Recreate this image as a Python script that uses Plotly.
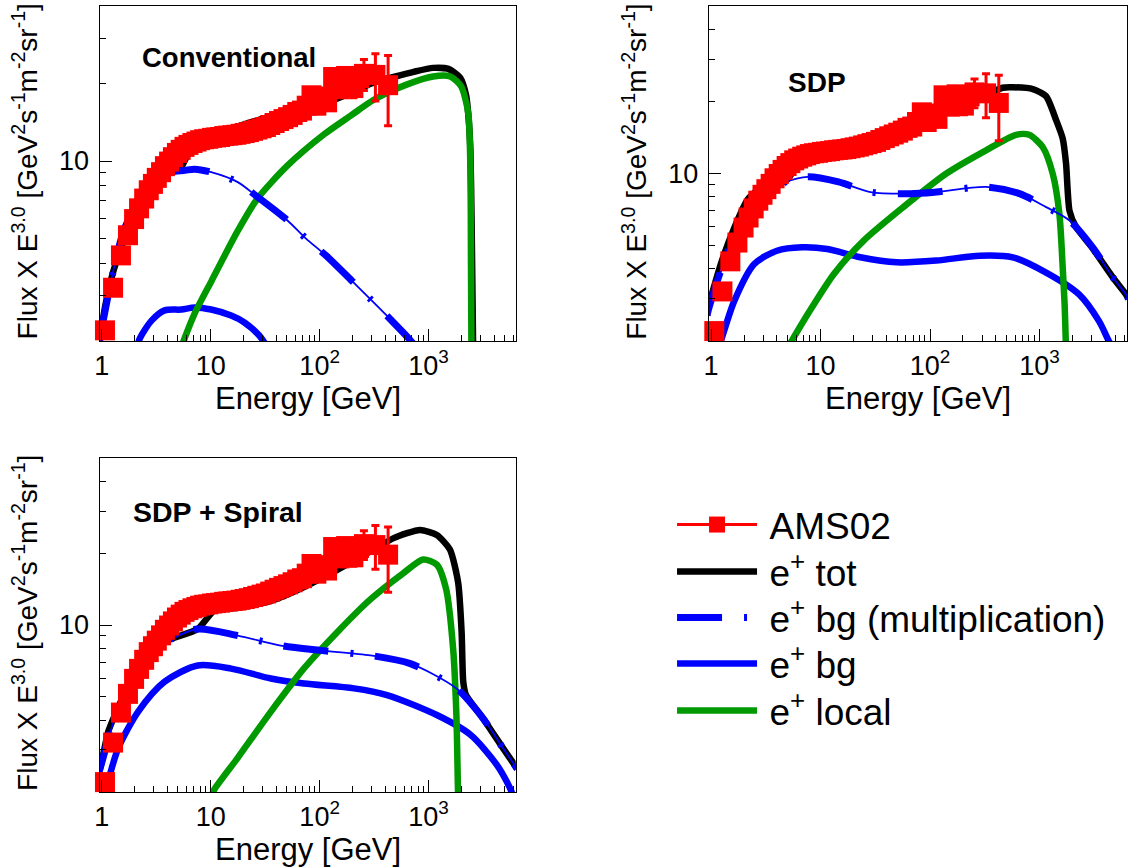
import math
import plotly.graph_objects as go

W, H = 1135, 867
FONT = "Liberation Sans, Arial, Helvetica, sans-serif"

# ---------------- AMS02 positron data (E^3 x flux) ----------------
ams_E = [1.07, 1.27, 1.50, 1.74, 1.98, 2.2, 2.45, 2.7, 2.95, 3.2, 3.5, 3.8, 4.15, 4.5, 4.9,
         5.3, 5.75, 6.25, 6.8, 7.4, 8.0, 8.7, 9.5, 10.3, 11.2, 12.2, 13.3, 14.5, 15.8, 17.2,
         18.8, 20.5, 22.4, 24.5, 26.8, 29.3, 32.1, 35.2, 38.6, 42.4, 46.6, 51.3, 56.5, 62.3,
         68.8, 76.1, 84.2, 93.3, 104, 117, 133, 152, 175, 204, 230, 255, 325, 425]
ams_F = [2.20, 3.22, 4.30, 5.15, 5.95, 6.55, 7.15, 7.70, 8.15, 8.60, 9.05, 9.55, 9.95, 10.35, 10.75,
         11.05, 11.35, 11.55, 11.75, 11.90, 12.05, 12.15, 12.20, 12.30, 12.35, 12.40, 12.50, 12.55, 12.60, 12.65,
         12.75, 12.85, 12.95, 13.10, 13.25, 13.40, 13.55, 13.80, 14.05, 14.30, 14.55, 14.80, 15.10, 15.50,
         15.70, 16.40, 18.00, 16.40, 17.80, 16.90, 21.20, 19.00, 21.40, 19.20, 21.00, 21.8, 21.6, 19.7]
ams_err = [0.05, 0.07, 0.08, 0.09, 0.1, 0.1, 0.1, 0.1, 0.1, 0.1, 0.1, 0.1, 0.1, 0.1, 0.1,
           0.1, 0.1, 0.1, 0.1, 0.1, 0.1, 0.1, 0.1, 0.1, 0.1, 0.1, 0.1, 0.1, 0.1, 0.1,
           0.12, 0.12, 0.13, 0.14, 0.15, 0.16, 0.18, 0.2, 0.22, 0.25, 0.3, 0.35, 0.4, 0.45,
           0.5, 0.55, 0.6, 0.7, 0.8, 0.9, 1.0, 1.1, 1.3, 1.6, 2.0, 3.0, 4.5, 6.0]

# ---------------- Panel 1: Conventional ----------------
conv_tot_E = [0.93, 1.0, 1.07, 1.27, 1.56, 2.0, 2.76, 3.8, 5.2, 7.1, 10.1, 17.6, 26.8, 50, 110, 200,
              314, 478, 730, 1100, 1520, 1960, 2210, 2350, 2420, 2480, 2530, 2580]
conv_tot_F = [1.8, 2.25, 2.7, 3.7, 4.8, 6.25, 7.8, 8.9, 9.3, 11.85, 12.45, 13.6, 14.4, 15.5, 16.75, 18.5,
              20.2, 21.2, 22.2, 23.0, 22.8, 21.0, 18.0, 14.0, 11.0, 6.0, 3.0, 1.5]
conv_bgm_E = [0.95, 1.05, 1.25, 1.6, 2.2, 3.0, 4.2, 5.8, 7.1, 10.1, 17.7, 26.9, 50.4, 74.5, 116, 197,
              292, 445, 655, 760]
conv_bgm_F = [2.0, 2.5, 3.6, 5.4, 7.0, 8.2, 9.05, 9.2, 9.3, 9.05, 8.28, 7.25, 5.89, 5.01, 4.27, 3.43,
              2.91, 2.43, 2.05, 1.9]
conv_bg_E = [2.15, 2.24, 2.86, 3.78, 5.38, 7.11, 10.1, 15.4, 20.4, 27.9, 32.2]
conv_bg_F = [1.95, 2.05, 2.40, 2.63, 2.65, 2.70, 2.65, 2.51, 2.36, 2.10, 1.93]
conv_loc_E = [5.4, 5.76, 7.1, 10.2, 17.6, 26.8, 50.3, 110, 197, 314, 628, 1100, 1580, 1990, 2310,
              2420, 2450, 2480]
conv_loc_F = [1.9, 2.05, 2.55, 3.43, 5.33, 7.14, 9.57, 12.7, 15.1, 17.3, 19.8, 21.3, 21.3, 19.5, 15.4,
              9.3, 4.0, 1.5]

# ---------------- Panel 2: SDP ----------------
sdp_tot_E = [0.92, 0.94, 1.23, 1.62, 2.16, 3.0, 4.8, 7.6, 14.6, 28.5, 65.8, 114, 325, 459, 570, 870,
             1150, 1420, 1630, 1750, 1880, 2150, 3030, 4690, 6170, 6500]
sdp_tot_F = [2.6, 2.75, 4.2, 5.9, 7.8, 8.9, 9.3, 12.3, 13.1, 13.9, 15.8, 17.8, 21.3, 22.8, 22.9, 22.5,
             21.0, 16.7, 14.0, 11.0, 7.0, 6.0, 4.9, 3.68, 3.13, 3.0]
sdp_bgm_E = [0.92, 0.94, 1.43, 2.2, 3.2, 4.8, 7.6, 14.6, 28.5, 65.8, 114, 325, 657, 1150, 1880, 3060,
             4690, 6170, 6500]
sdp_bgm_F = [2.55, 2.67, 4.77, 7.0, 8.4, 9.22, 9.68, 9.22, 8.37, 8.24, 8.37, 8.79, 8.24, 7.24, 6.37, 4.92,
             3.68, 3.13, 3.0]
sdp_bg_E = [1.18, 1.23, 1.63, 2.48, 4.0, 6.8, 11.5, 23.1, 49.5, 114, 285, 570, 1150, 2300, 3500, 4300, 4600]
sdp_bg_F = [1.9, 2.0, 2.94, 4.19, 4.76, 4.92, 4.84, 4.47, 4.26, 4.33, 4.54, 4.47, 3.86, 3.13, 2.42, 2.0, 1.9]
sdp_loc_E = [5.1, 5.34, 7.6, 13.2, 24.8, 57, 141, 325, 610, 805, 1070, 1320, 1520, 1630, 1700, 1740, 1760]
sdp_loc_F = [1.9, 1.97, 2.58, 3.8, 5.25, 7.24, 10.0, 12.5, 14.5, 14.5, 12.9, 10.0, 6.8, 4.06, 2.8, 1.97, 1.5]

# ---------------- Panel 3: SDP + Spiral ----------------
sp_tot_E = [0.92, 0.97, 1.15, 1.32, 1.8, 2.5, 3.5, 4.36, 7.6, 10.8, 17.7, 35.7, 71.8, 145, 292, 478,
            836, 1190, 1570, 1870, 2010, 2080, 2200, 3160, 4800, 6100, 6500]
sp_tot_F = [2.35, 2.53, 3.59, 4.2, 5.7, 7.2, 8.3, 8.75, 9.62, 11.5, 11.8, 12.6, 14.4, 17.0, 20.3, 23.1,
            25.0, 23.8, 20.7, 15.0, 9.33, 5.79, 5.1, 4.07, 3.06, 2.61, 2.5]
sp_bgm_E = [0.92, 0.97, 1.3, 2.0, 3.0, 4.36, 7.6, 17.7, 44, 102, 292, 680, 1800, 3160, 4800, 6100, 6500]
sp_bgm_F = [2.35, 2.53, 4.0, 6.3, 7.9, 8.75, 9.62, 9.03, 8.2, 7.83, 7.46, 6.89, 5.43, 4.07, 3.06, 2.61, 2.5]
sp_bg_E = [1.06, 1.11, 1.19, 1.42, 2.16, 3.78, 7.6, 15.4, 35.7, 71.8, 207, 415, 1190, 2410, 4200, 5550, 5900]
sp_bg_F = [1.95, 2.1, 2.37, 3.06, 4.34, 5.79, 6.77, 6.57, 5.97, 5.69, 5.43, 5.09, 4.2, 3.48, 2.61, 2.09, 1.95]
sp_loc_E = [10.3, 10.8, 17.7, 35.7, 71.8, 145, 292, 588, 890, 1190, 1450, 1680, 1800, 1860, 1890]
sp_loc_F = [1.95, 2.05, 2.78, 4.34, 6.58, 9.33, 12.8, 16.5, 18.8, 17.9, 14.1, 7.95, 4.2, 2.05, 1.5]

# ---------------- labels / ticks ----------------
panel_names = ["Conventional", "SDP", "SDP + Spiral"]
x_tickvals = [1, 10, 100, 1000]
x_ticktext = ["1", "10", "10<sup>2</sup>", "10<sup>3</sup>"]
x_minor = [2, 3, 4, 5, 6, 7, 8, 9, 20, 30, 40, 50, 60, 70, 80, 90,
           200, 300, 400, 500, 600, 700, 800, 900, 2000, 3000, 4000, 5000, 6000]
y_tickvals = [10]
y_ticktext = ["10"]
y_minor = [3, 4, 5, 6, 7, 8, 9, 20, 30, 40]
y_ranges = [[2, 40], [2, 50], [2, 50]]
xtitle = "Energy [GeV]"
ytitle = "Flux X E<sup>3.0</sup> [GeV<sup>2</sup>s<sup>-1</sup>m<sup>-2</sup>sr<sup>-1</sup>]"
legend_names = ["AMS02", "e<sup>+</sup> tot", "e<sup>+</sup> bg (multiplication)",
                "e<sup>+</sup> bg", "e<sup>+</sup> local"]

RED, BLUE, GREEN, BLACK = "#ff0000", "#0000ff", "#009900", "#000000"
LW = 6.5

# pixel layout of the three frames (left, right, top, bottom)
frames = [(95, 513, 6, 341), (707, 1127, 6, 341), (95, 513, 458, 792)]

curves = [
    (conv_tot_E, conv_tot_F, conv_bgm_E, conv_bgm_F, conv_bg_E, conv_bg_F, conv_loc_E, conv_loc_F),
    (sdp_tot_E, sdp_tot_F, sdp_bgm_E, sdp_bgm_F, sdp_bg_E, sdp_bg_F, sdp_loc_E, sdp_loc_F),
    (sp_tot_E, sp_tot_F, sp_bgm_E, sp_bgm_F, sp_bg_E, sp_bg_F, sp_loc_E, sp_loc_F),
]

fig = go.Figure()
DASH = "45px,22px,3px,22px"
SP = "\u2009"  # small gap between legend symbol and text

for i, (tE, tF, mE, mF, bE, bF, lE, lF) in enumerate(curves):
    xa = "x" if i == 0 else f"x{i+1}"
    ya = "y" if i == 0 else f"y{i+1}"
    first = (i == 0)
    fig.add_trace(go.Scatter(x=tE, y=tF, xaxis=xa, yaxis=ya, mode="lines",
                             line=dict(color=BLACK, width=LW, shape="spline", smoothing=0.6),
                             name=SP + legend_names[1], showlegend=first, legend="legend2"))
    fig.add_trace(go.Scatter(x=bE, y=bF, xaxis=xa, yaxis=ya, mode="lines",
                             line=dict(color=BLUE, width=LW, shape="spline", smoothing=0.8),
                             name=SP + legend_names[3], showlegend=first, legend="legend4"))
    fig.add_trace(go.Scatter(x=lE, y=lF, xaxis=xa, yaxis=ya, mode="lines",
                             line=dict(color=GREEN, width=LW, shape="spline", smoothing=0.7),
                             name=SP + legend_names[4], showlegend=first, legend="legend5"))
    fig.add_trace(go.Scatter(x=mE, y=mF, xaxis=xa, yaxis=ya, mode="lines",
                             line=dict(color=BLUE, width=1.8, shape="spline", smoothing=0.8),
                             showlegend=False, hoverinfo="skip"))
    fig.add_trace(go.Scatter(x=mE, y=mF, xaxis=xa, yaxis=ya, mode="lines",
                             line=dict(color=BLUE, width=LW + 0.5, shape="spline", smoothing=0.8, dash=DASH),
                             name=SP + legend_names[2], showlegend=first, legend="legend3"))
    fig.add_trace(go.Scatter(x=ams_E, y=ams_F, xaxis=xa, yaxis=ya, mode="markers",
                             marker=dict(symbol="square", size=20, color=RED, line=dict(width=0)),
                             error_y=dict(type="data", array=ams_err, color=RED, thickness=3, width=4),
                             cliponaxis=False, showlegend=False))

# legend-only entry for the data (line + square like the original legend)
fig.add_trace(go.Scatter(x=[None], y=[None], mode="lines+markers", name=SP + legend_names[0],
                         line=dict(color=RED, width=3),
                         marker=dict(symbol="square", size=20, color=RED),
                         showlegend=True, legend="legend"))

layout = dict(width=W, height=H, margin=dict(l=0, r=0, t=0, b=0),
              paper_bgcolor="white", plot_bgcolor="white",
              font=dict(family=FONT, color="black"), showlegend=True)

annotations = []
for i, (l, r, t, b) in enumerate(frames):
    sx = "" if i == 0 else str(i + 1)
    layout["xaxis" + sx] = dict(
        type="log", range=[-0.02, 3.80], domain=[l / W, r / W],
        anchor="y" + sx,
        tickmode="array", tickvals=x_tickvals, ticktext=x_ticktext,
        ticks="inside", ticklen=12, tickwidth=1, tickcolor="black",
        minor=dict(tickmode="array", tickvals=x_minor, ticks="inside", ticklen=6,
                   tickwidth=1, tickcolor="black", showgrid=False),
        showline=True, linecolor="black", linewidth=1.2, mirror=True,
        showgrid=False, zeroline=False,
        tickfont=dict(family=FONT, size=27, color="black"))
    yr = y_ranges[i]
    layout["yaxis" + sx] = dict(
        type="log", range=[math.log10(yr[0]), math.log10(yr[1])],
        domain=[1 - b / H, 1 - t / H], anchor="x" + sx,
        tickmode="array", tickvals=y_tickvals, ticktext=y_ticktext,
        ticks="inside", ticklen=12, tickwidth=1, tickcolor="black",
        ticklabelstandoff=4,
        minor=dict(tickmode="array", tickvals=y_minor, ticks="inside", ticklen=6,
                   tickwidth=1, tickcolor="black", showgrid=False),
        showline=True, linecolor="black", linewidth=1.2, mirror=True,
        showgrid=False, zeroline=False,
        tickfont=dict(family=FONT, size=27, color="black"))
    # axis titles
    annotations.append(dict(text=xtitle, xref="paper", yref="paper",
                            x=(l + r) / 2 / W, y=1 - (b + 57) / H, xanchor="center", yanchor="middle",
                            showarrow=False, font=dict(family=FONT, size=31, color="black")))
    annotations.append(dict(text=ytitle, xref="paper", yref="paper",
                            x=(l - 75) / W, y=1 - ((t + b) / 2 - 2) / H, xanchor="center", yanchor="middle",
                            textangle=-90, showarrow=False,
                            font=dict(family=FONT, size=28, color="black")))

# panel names
name_pos = [(136, 58), (784, 82), (127, 512)]
for name, (px, py), fs in zip(panel_names, name_pos, [27.5, 28, 28.5]):
    annotations.append(dict(text="<b>" + name + "</b>", xref="paper", yref="paper",
                            x=px / W, y=1 - py / H, xanchor="left", yanchor="middle",
                            showarrow=False, font=dict(family=FONT, size=fs, color="black")))

layout["annotations"] = annotations

# one legend box per entry so the rows sit like the original
legend_rows = [525, 572, 618, 664, 711]
for k, yc in enumerate(legend_rows):
    key = "legend" if k == 0 else f"legend{k+1}"
    layout[key] = dict(x=670 / W, y=1 - yc / H, xanchor="left", yanchor="middle",
                       font=dict(family=FONT, size=37, color="black"),
                       itemwidth=80, bgcolor="rgba(0,0,0,0)", borderwidth=0)

fig.update_layout(**layout)
fig.write_html("out.html")
